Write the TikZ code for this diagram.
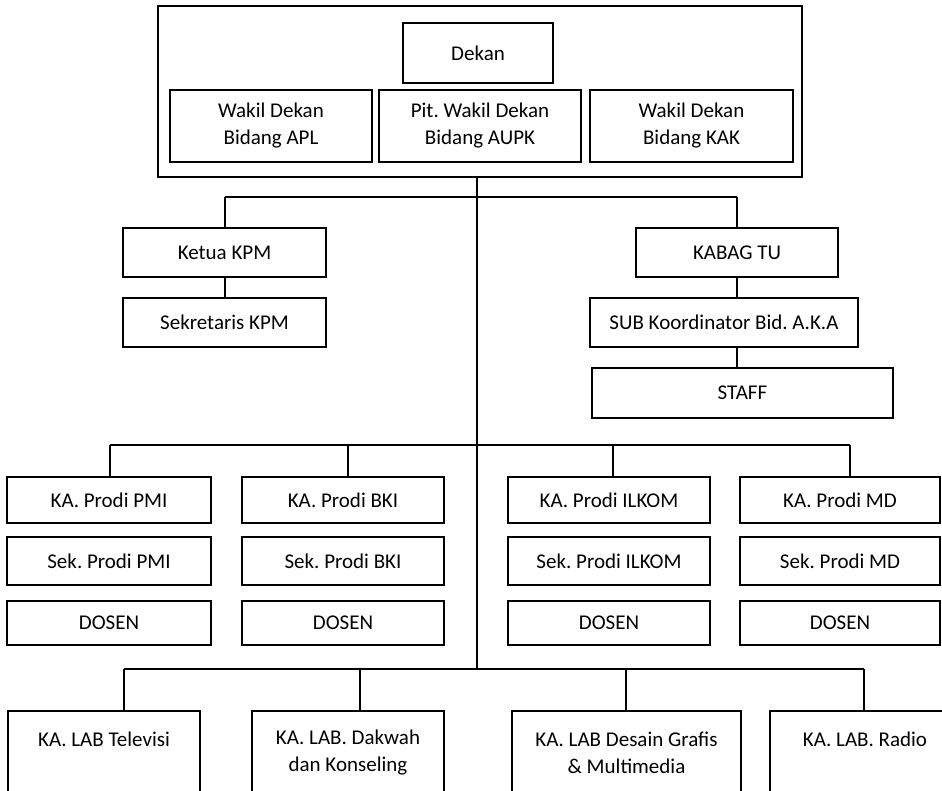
\documentclass[tikz,border=0pt]{standalone}
\usepackage{fontspec}
\setmainfont{Carlito}
\usepackage{tikz}
\usetikzlibrary{arrows}
\frenchspacing

\begin{document}
\begin{tikzpicture}[x=1pt,y=-1pt,
  unit_box/.style 2 args={draw,rectangle,line width=2.2pt,align=center,inner sep=0pt,
    minimum width=#1pt,minimum height=#2pt,font=\fontsize{21}{27}\selectfont}]

    \useasboundingbox (0,0) rectangle (942,791);
    \clip (0,0) rectangle (942,791);

    \node[unit_box={644}{171}] (0) at (480,91.5) {};
    \node[unit_box={150}{60}] (1) at (478,53) {Dekan};
    \node[unit_box={202}{72}] (2) at (271,126) {Wakil Dekan\\Bidang APL};
    \node[unit_box={202}{72}] (3) at (480,126) {Pit. Wakil Dekan\\Bidang AUPK};
    \node[unit_box={203}{72}] (4) at (691.5,126) {Wakil Dekan\\Bidang KAK};

    \node[unit_box={203}{49}] (5) at (224.5,252.5) {Ketua KPM};
    \node[unit_box={203}{49}] (6) at (224.5,322.5) {Sekretaris KPM};
    \node[unit_box={202}{49}] (7) at (737,252.5) {KABAG TU};
    \node[unit_box={268}{49}] (8) at (724,322.5) {SUB Koordinator Bid. A.K.A};
    \node[unit_box={301}{50}] (9) at (742.5,393) {STAFF};

    \node[unit_box={204}{46}] (10) at (109,500) {KA. Prodi PMI};
    \node[unit_box={202}{46}] (11) at (343,500) {KA. Prodi BKI};
    \node[unit_box={202}{46}] (12) at (609,500) {KA. Prodi ILKOM};
    \node[unit_box={200}{46}] (13) at (840,500) {KA. Prodi MD};
    \node[unit_box={204}{48}] (14) at (109,561) {Sek. Prodi PMI};
    \node[unit_box={202}{48}] (15) at (343,561) {Sek. Prodi BKI};
    \node[unit_box={202}{48}] (16) at (609,561) {Sek. Prodi ILKOM};
    \node[unit_box={200}{48}] (17) at (840,561) {Sek. Prodi MD};
    \node[unit_box={204}{44}] (18) at (109,623) {DOSEN};
    \node[unit_box={202}{44}] (19) at (343,623) {DOSEN};
    \node[unit_box={202}{44}] (20) at (609,623) {DOSEN};
    \node[unit_box={200}{44}] (21) at (840,623) {DOSEN};

    \node[unit_box={192}{83}] (22) at (104,752.5) {KA. LAB Televisi\\\mbox{}};
    \node[unit_box={192}{83}] (23) at (348,752.5) {KA. LAB. Dakwah\\dan Konseling};
    \node[unit_box={229}{83}] (24) at (626.5,752.5) {KA. LAB Desain Grafis\\\& Multimedia};
    \node[unit_box={190}{83}] (25) at (865,752.5) {KA. LAB. Radio\\\mbox{}};

    \coordinate (s1) at (476.5,197);
    \coordinate (s3) at (476.5,669);
    \coordinate (c1) at (5 |- s1);
    \coordinate (c2) at (7 |- s1);
    \coordinate (p1) at (110,445);
    \coordinate (p2) at (348,445);
    \coordinate (p3) at (613,445);
    \coordinate (p4) at (850,445);
    \coordinate (l1) at (124,669);
    \coordinate (l2) at (360,669);
    \coordinate (l3) at (626,669);
    \coordinate (l4) at (864,669);

  \path[draw,line width=2pt]
    (0.south -| s1) edge (s3)
    (c1) edge (c2)
    (c1) edge (5)
    (5) edge (6)
    (c2) edge (7)
    (7.south) edge (8.north -| 7.south)
    (8.south -| 7.south) edge (9.north -| 7.south)
    (p1) edge (p4)
    (p1) edge (p1 |- 10.north)
    (p2) edge (p2 |- 11.north)
    (p3) edge (p3 |- 12.north)
    (p4) edge (p4 |- 13.north)
    (l1) edge (l4)
    (l1) edge (l1 |- 22.north)
    (l2) edge (l2 |- 23.north)
    (l3) edge (l3 |- 24.north)
    (l4) edge (l4 |- 25.north);

\end{tikzpicture}
\end{document}
